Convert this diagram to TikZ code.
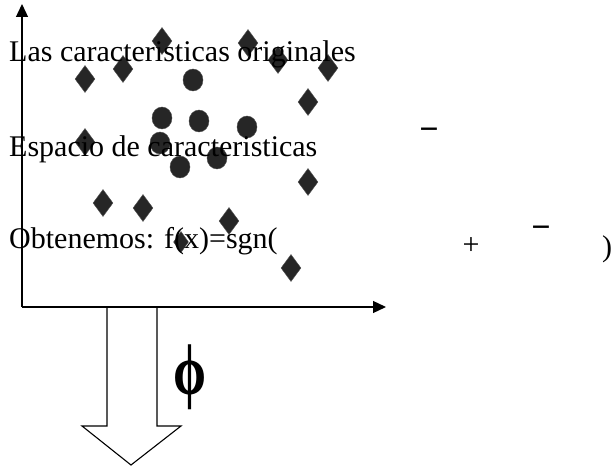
\documentclass[tikz,border=0pt]{standalone}
\usepackage{fontspec}
\usepackage{amsmath,amssymb,graphicx}
\setmainfont{Liberation Serif}
\usetikzlibrary{arrows.meta,shapes.geometric}

\begin{document}
\begin{tikzpicture}[x=1pt,y=-1pt,font=\fontsize{30}{32}\selectfont]

\tikzstyle{dia} = [diamond, fill=black!85, draw=black!70, inner sep=0pt, minimum width=20pt, minimum height=27pt]
\tikzstyle{pt} = [ellipse, fill=black!85, draw=black!70, inner sep=0pt, minimum width=20pt, minimum height=22pt]
\tikzstyle{txt} = [anchor=base west, inner sep=0pt]
\tikzstyle{sym} = [inner sep=0pt]
\tikzstyle{axis} = [line width=1.3pt, -{Triangle[length=13pt,width=12pt]}]
\useasboundingbox (0,0) rectangle (611,468);

% ejes
\coordinate (o) at (22,307);
\coordinate (ytop) at (22,4);
\coordinate (xend) at (386,307);
\draw[axis] (o) -- (ytop);
\draw[axis] (o) -- (xend);

% clase 1
\node (d1) [dia] at (162,41) {};
\node (d2) [dia] at (248,43) {};
\node (d3) [dia] at (278,60) {};
\node (d4) [dia] at (328,68) {};
\node (d5) [dia] at (123,69) {};
\node (d6) [dia] at (85,79) {};
\node (d7) [dia] at (308,102) {};
\node (d8) [dia] at (85,142) {};
\node (d9) [dia] at (308,182) {};
\node (d10) [dia] at (103,203) {};
\node (d11) [dia] at (143,208) {};
\node (d12) [dia] at (229,221) {};
\node (d13) [dia, minimum width=15pt, minimum height=21pt] at (181,242) {};
\node (d14) [dia] at (291,268) {};

% clase 2
\node (c1) [pt] at (193,80) {};
\node (c2) [pt] at (162,118) {};
\node (c3) [pt] at (199,121) {};
\node (c4) [pt] at (247,127) {};
\node (c5) [pt] at (160,143) {};
\node (c6) [pt] at (217,158) {};
\node (c7) [pt] at (180,167) {};

% textos
\node (t1) [txt] at (9,62) {Las caracteristicas originales};
\node (t2) [txt] at (9,157) {Espacio de caracteristicas};
\node (t3) [txt] at (9,248) {Obtenemos: f(x)=sgn(};
\node (m1) [sym, font=\fontsize{34}{36}\selectfont\bfseries] at (429,134) {−};
\node (p1) [sym] at (471,246) {+};
\node (m2) [sym, font=\fontsize{34}{36}\selectfont\bfseries] at (541,232) {−};
\node (cp) [sym, anchor=base] at (607,256) {)};

% transformacion
\draw[line width=1.1pt, line join=miter] (107,307) -- (107,426) -- (82,426) -- (131,465)
  -- (181,426) -- (157,426) -- (157,307);
\node (phi) [sym] at (190,377) {\resizebox*{33pt}{65pt}{\bfseries ϕ}};
\end{tikzpicture}
\end{document}
